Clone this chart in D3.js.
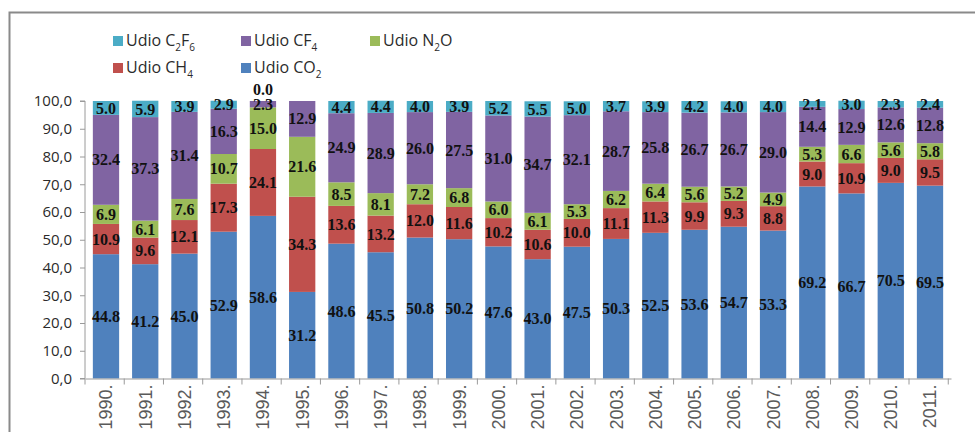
<!DOCTYPE html>
<html><head><meta charset="utf-8">
<script src="https://cdn.jsdelivr.net/npm/d3@7"></script>
<style>
html,body{margin:0;padding:0;background:#fff;}
svg{display:block;}
</style></head>
<body>
<svg id="chart" width="975" height="432"></svg>
<script>
const years = ["1990.","1991.","1992.","1993.","1994.","1995.","1996.","1997.","1998.","1999.","2000.","2001.","2002.","2003.","2004.","2005.","2006.","2007.","2008.","2009.","2010.","2011."];
const co2  = [44.8,41.2,45.0,52.9,58.6,31.2,48.6,45.5,50.8,50.2,47.6,43.0,47.5,50.3,52.5,53.6,54.7,53.3,69.2,66.7,70.5,69.5];
const ch4  = [10.9,9.6,12.1,17.3,24.1,34.3,13.6,13.2,12.0,11.6,10.2,10.6,10.0,11.1,11.3,9.9,9.3,8.8,9.0,10.9,9.0,9.5];
const n2o  = [6.9,6.1,7.6,10.7,15.0,21.6,8.5,8.1,7.2,6.8,6.0,6.1,5.3,6.2,6.4,5.6,5.2,4.9,5.3,6.6,5.6,5.8];
const cf4  = [32.4,37.3,31.4,16.3,2.3,12.9,24.9,28.9,26.0,27.5,31.0,34.7,32.1,28.7,25.8,26.7,26.7,29.0,14.4,12.9,12.6,12.8];
const c2f6 = [5.0,5.9,3.9,2.9,0.0,null,4.4,4.4,4.0,3.9,5.2,5.5,5.0,3.7,3.9,4.2,4.0,4.0,2.1,3.0,2.3,2.4];
const yTicks = [0,10,20,30,40,50,60,70,80,90,100];

const seriesDefs = [
  {key:"co2", name:["Udio CO","2",""], values:co2, color:"#4f81bd"},
  {key:"ch4", name:["Udio CH","4",""], values:ch4, color:"#c0504d"},
  {key:"n2o", name:["Udio N","2","O"], values:n2o, color:"#9bbb59"},
  {key:"cf4", name:["Udio CF","4",""], values:cf4, color:"#8064a2"},
  {key:"c2f6", name:["Udio C","2","F","6"], values:c2f6, color:"#4bacc6"}
];

const svg = d3.select("#chart");
const W = 975, H = 432;
const x = d3.scaleBand().domain(years).range([85, 951]).paddingInner(0.33).paddingOuter(0.2);
const y = d3.scaleLinear().domain([0,100]).range([378.5, 101]);

// frame
svg.append("path").attr("d", `M9.5,${H} V12.5 H${W}`).attr("fill","none").attr("stroke","#8a8a8a").attr("stroke-width",2);

// stack
const table = years.map((yr,i)=>{ const o={year:yr}; seriesDefs.forEach(s=>o[s.key]=s.values[i]==null?0:s.values[i]); return o;});
const stack = d3.stack().keys(seriesDefs.map(s=>s.key))(table);

const g = svg.append("g");
stack.forEach((layer,li)=>{
  const s = seriesDefs[li];
  g.selectAll(null).data(layer).enter().append("rect")
    .attr("x", d=>x(d.data.year))
    .attr("width", x.bandwidth())
    .attr("y", d=>y(d[1]))
    .attr("height", d=>Math.max(0, y(d[0])-y(d[1])))
    .attr("fill", s.color);
});

// axes
const yAxis = d3.axisLeft(y).tickValues(yTicks).tickSize(5).tickFormat(d=>d3.format(".1f")(d).replace(".",","));
const ya = svg.append("g").attr("transform","translate(85,0)").call(yAxis);
ya.select(".domain").attr("stroke","#9a9a9a").attr("d", `M-5,${y(100)}H0V${y(0)}H-5`);
ya.selectAll(".tick line").attr("stroke","#9a9a9a");
ya.selectAll(".tick text").attr("x",-13).attr("font-family","'Open Sans', sans-serif").attr("font-size",15).attr("fill","#2b2b2b");

const xa = svg.append("g").attr("transform",`translate(0,${y(0)})`).call(d3.axisBottom(x).tickSize(0).tickSizeOuter(0));
xa.select(".domain").attr("stroke","#9a9a9a");
const step = x.step();
const bounds = d3.range(years.length+1).map(i=> x.range()[0] + i*step);
xa.selectAll("line.bt").data(bounds).enter().append("line").attr("class","bt")
  .attr("x1",d=>d).attr("x2",d=>d).attr("y1",0).attr("y2",6).attr("stroke","#9a9a9a");
xa.selectAll(".tick text")
  .attr("transform","rotate(-90)")
  .attr("x",-6).attr("y",0).attr("dy","0.36em")
  .attr("text-anchor","end")
  .attr("font-family","'Liberation Sans', Arial, sans-serif")
  .attr("font-size",18).attr("fill","#5a5a5a");

// data labels
const lab = svg.append("g").attr("font-family","'Liberation Serif', 'Times New Roman', serif")
  .attr("font-weight","bold").attr("font-size",16).attr("fill","#111").attr("text-anchor","middle");
stack.forEach((layer,li)=>{
  const s = seriesDefs[li];
  layer.forEach((d,i)=>{
    const v = s.values[i];
    if (v==null) return;
    let cy = (y(d[0])+y(d[1]))/2;
    if (v===0) cy -= 12;
    lab.append("text").attr("x", x(d.data.year)+x.bandwidth()/2).attr("y", cy).attr("dy","0.35em")
      .text(d3.format(".1f")(v));
  });
});

// legend
const legendItems = [
  {s:seriesDefs[4], x:113, y:36},
  {s:seriesDefs[3], x:241, y:36},
  {s:seriesDefs[2], x:370, y:36},
  {s:seriesDefs[1], x:113, y:63},
  {s:seriesDefs[0], x:241, y:63}
];
const lg = svg.append("g");
legendItems.forEach(it=>{
  lg.append("rect").attr("x",it.x).attr("y",it.y).attr("width",10).attr("height",10).attr("fill",it.s.color);
  const t = lg.append("text").attr("x",it.x+13).attr("y",it.y+10).attr("font-family","'Open Sans', sans-serif").attr("font-size",16).attr("fill","#2b2b2b");
  const parts = it.s.name;
  parts.forEach((p,pi)=>{
    if (p==="") return;
    const isSub = pi%2===1;
    t.append("tspan").attr("font-size", isSub?10:16).attr("dy", isSub? 5 : (pi>0? -5:0)).text(p);
  });
});
</script>
</body></html>
